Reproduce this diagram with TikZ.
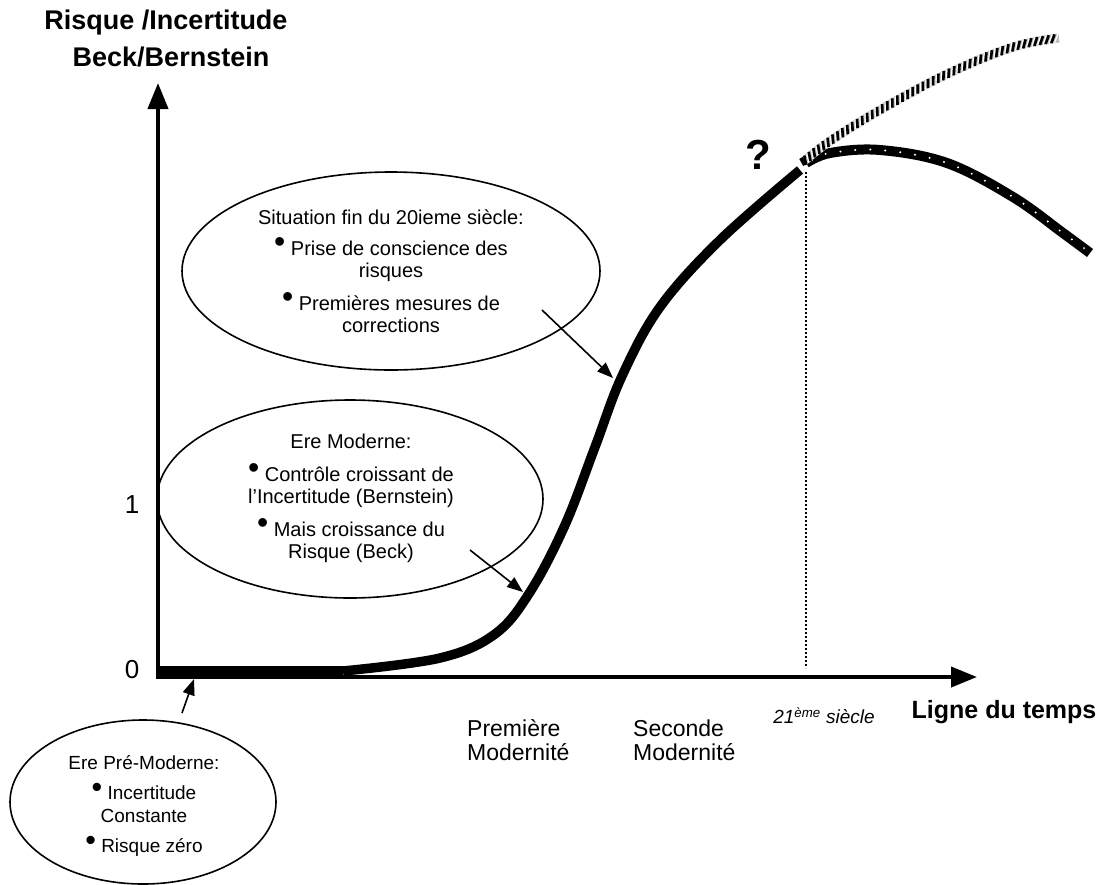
\documentclass[tikz,border=0pt]{standalone}
\usepackage{fontspec}
\setmainfont{Liberation Sans}
\usetikzlibrary{arrows.meta,shapes.geometric,decorations.markings}

% raised bullet used in the bubble lists
\newcommand\ptbullet{\raisebox{0.12em}{\scalebox{1.6}{•}}\ }

\begin{document}
\begin{tikzpicture}[x=1pt,y=-1pt,
  ax/.style={line width=4pt, -{Triangle[length=26pt,width=20pt]}},
  bubble/.style={draw, line width=1.6pt, ellipse, inner sep=0pt},
  note/.style={align=center, inner sep=0pt},
  pointer/.style={line width=1.6pt, -{Triangle[length=16pt,width=12pt]}},
  risk/.style={line width=9.5pt, line join=round},
  lbl/.style={inner sep=0pt, font=\fontsize{23}{24}\selectfont, align=left, anchor=west},
  ttl/.style={inner sep=0pt, font=\bfseries\fontsize{27}{27}\selectfont},
]
\useasboundingbox (0,0) rectangle (1107,884);

% axes
\coordinate (orig) at (158,679);
\coordinate (ytip) at (158,83);
\coordinate (xstart) at (156,677);
\coordinate (xtip) at (977,677);
\draw[ax] (orig) -- (ytip);
\draw[ax] (xstart) -- (xtip);

% axis titles and ticks
\node[ttl] (ytitle1) at (166,23) {Risque /Incertitude};
\node[ttl] (ytitle2) at (171,57) {Beck/Bernstein};
\node[inner sep=0pt, font=\bfseries\fontsize{25}{25}\selectfont] (xtitle) at (1004,712) {Ligne du temps};
\node[inner sep=0pt, font=\fontsize{26}{26}\selectfont] (zero) at (132,670) {0};
\node[inner sep=0pt, font=\fontsize{26}{26}\selectfont] (one) at (132,505) {1};

% eras on the time line
\node[lbl] (first) at (467,740) {Première\\Modernité};
\node[lbl] (second) at (633,740) {Seconde\\Modernité};
\node[inner sep=0pt, font=\itshape\fontsize{19}{19}\selectfont] (c21) at (824,716) {21\textsuperscript{ème} siècle};

% 21st century marker
\coordinate (vtop) at (806,172);
\coordinate (vbot) at (806,668);
\draw[line width=2pt, dash pattern=on 2pt off 2pt] (vtop) -- (vbot);

% risk curve
\draw[line width=10.5pt] (157,671.5) -- (343,671.5);
\draw[risk] plot[smooth, tension=0.6] coordinates {(343,671) (440,658) (495,634) (530,592) (565,525) (595,447) (622,376) (660,307) (720,240) (800,170)};

% possible futures: decline (dotted band) and growth (striped band)
\draw[line width=10pt] plot[smooth, tension=0.6] coordinates {(806,163) (830,153) (880,150) (947,163) (1013,197) (1063,233) (1090,253)};
\draw[line width=2.2pt, white, line cap=round, dash pattern=on 0pt off 15pt] plot[smooth, tension=0.6] coordinates {(812,160) (830,153) (880,150) (947,163) (1013,197) (1063,233) (1088,251)};

\draw[line width=9pt, white!75!black] plot[smooth, tension=0.6] coordinates {(803,162) (830,141) (880,110) (947,74) (1013,47) (1059,38)};
\path[decorate, decoration={markings,
    mark=between positions 0.01 and 0.995 step 5.8pt with {\draw[line width=2.6pt, black] (-2.2pt,-4.1pt) -- (2.2pt,4.1pt);
      \draw[line width=1.2pt, white] (1.2pt,-4.1pt) -- (5.6pt,4.1pt);}}]
  plot[smooth, tension=0.6] coordinates {(803,162) (830,141) (880,110) (947,74) (1013,47) (1059,38)};
\draw[line width=4pt] (801,158) -- (805,165);

\node[inner sep=0pt, font=\bfseries\fontsize{42}{42}\selectfont] (qmark) at (758,155) {?};

% bubbles
\node[bubble, minimum width=418pt, minimum height=198pt] (late) at (391,271) {};
\node[bubble, minimum width=386pt, minimum height=198pt] (modern) at (350,499) {};
\node[bubble, minimum width=266pt, minimum height=164pt] (premod) at (143,802) {};

\node[note, font=\fontsize{20}{22}\selectfont] (latetext) at (391,271)
  {Situation fin du 20ieme siècle:\\[9pt]
   \ptbullet Prise de conscience des\\ risques\\[11pt]
   \ptbullet Premières mesures de\\ corrections};
\node[note, font=\fontsize{20}{22}\selectfont] (moderntext) at (351,498)
  {Ere Moderne:\\[11pt]
   \ptbullet Contrôle croissant de\\ l’Incertitude (Bernstein)\\[11pt]
   \ptbullet Mais croissance du\\ Risque (Beck)};
\node[note, font=\fontsize{19}{23}\selectfont] (premodtext) at (144,806)
  {Ere Pré-Moderne:\\[7pt]
   \ptbullet Incertitude\\ Constante\\[7pt]
   \ptbullet Risque zéro};

% pointers from bubbles to the curve
\coordinate (s1) at (542,310);
\coordinate (t1) at (613,378);
\coordinate (s2) at (470,550);
\coordinate (t2) at (523,592);
\coordinate (s3) at (182,713);
\coordinate (t3) at (194,679);
\draw[pointer] (s1) -- (t1);
\draw[pointer] (s2) -- (t2);
\draw[pointer] (s3) -- (t3);
\end{tikzpicture}
\end{document}
